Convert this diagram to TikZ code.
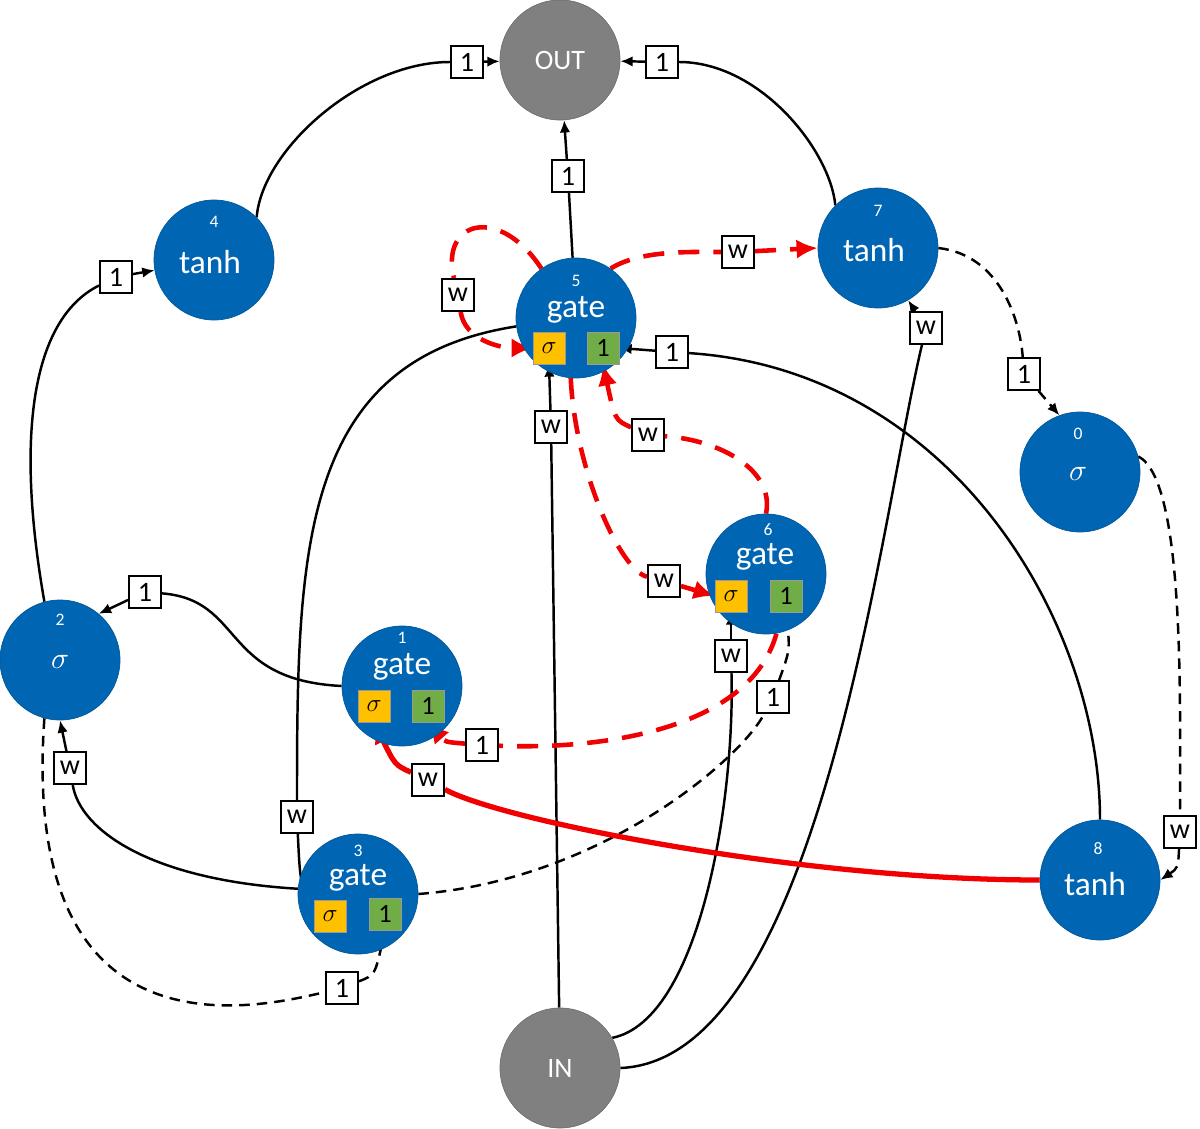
\documentclass[tikz,border=0pt]{standalone}
\usepackage{fontspec}
\setmainfont{Carlito}
\usetikzlibrary{arrows.meta}
\definecolor{nb}{RGB}{0,102,179}
\definecolor{gr}{RGB}{128,128,128}
\definecolor{og}{RGB}{255,192,0}
\definecolor{gn}{RGB}{112,173,71}
\definecolor{rd}{RGB}{240,0,0}
\pgfdeclarelayer{bg}
\pgfsetlayers{bg,main}
\begin{document}
\begin{tikzpicture}[x=0.02cm,y=-0.02cm,
 bn/.style={circle,fill=nb,draw=nb!85!black,minimum size=2.4cm,inner sep=0pt},
 gn/.style={circle,fill=gr,draw=gr!85!black,minimum size=2.4cm,inner sep=0pt,text=white,font=\fontsize{16}{16}\selectfont},
 num/.style={text=white,font=\fontsize{10}{10}\selectfont,inner sep=0pt},
 big/.style={text=white,font=\fontsize{19}{19}\selectfont,inner sep=0pt},
 sb/.style={draw=black!40,minimum size=0.64cm,inner sep=0pt,font=\fontsize{15}{15}\selectfont},
 lab/.style={draw,fill=white,line width=1.1pt,minimum size=0.64cm,inner sep=0pt,font=\fontsize{16}{16}\selectfont},
 bl/.style={line width=1.4pt},
 ba/.style={bl,-{Latex[length=7pt,width=6pt]}},
 dsh/.style={dash pattern=on 6pt off 4pt},
 rl/.style={rd,line width=2.6pt,dash pattern=on 12pt off 8pt},
 ra/.style={rl,-{Latex[length=12pt,width=11pt]}},
 rs/.style={rd,line width=3pt},
 rsa/.style={rs,-{Latex[length=12pt,width=11pt]}}]
\useasboundingbox (0,0) rectangle (1200,1129);
% nodes
\node[gn] (OUT) at (560,60) {OUT};
\node[gn] (IN) at (560,1068) {IN};
\node[bn] (n4) at (214,260) {}; \node[num] at (214,222) {4}; \node[big] at (210,262) {tanh};
\node[bn] (n7) at (878,248) {}; \node[num] at (878,211) {7}; \node[big] at (874,250) {tanh};
\node[bn] (n8) at (1100,880) {}; \node[num] at (1098,849) {8}; \node[big] at (1095,884) {tanh};
\node[bn] (n0) at (1080,472) {}; \node[num] at (1078,434) {0}; \node[big] at (1078,474) {$\sigma$};
\node[bn] (n2) at (60,660) {}; \node[num] at (60,620) {2}; \node[big] at (60,662) {$\sigma$};
\node[bn] (n5) at (576,318) {}; \node[num] at (576,281) {5}; \node[big] at (576,310) {gate};
\node[sb,fill=og] (s5a) at (549,348) {$\sigma$}; \node[sb,fill=gn] (s5b) at (603,348) {1};
\node[bn] (n6) at (766,574) {}; \node[num] at (768,530) {6}; \node[big] at (765,557) {gate};
\node[sb,fill=og] (s6a) at (731,596) {$\sigma$}; \node[sb,fill=gn] (s6b) at (786,596) {1};
\node[bn] (n1) at (402,686) {}; \node[num] at (402,638) {1}; \node[big] at (402,667) {gate};
\node[sb,fill=og] (s1a) at (374,706) {$\sigma$}; \node[sb,fill=gn] (s1b) at (428,706) {1};
\node[bn] (n3) at (358,894) {}; \node[num] at (358,851) {3}; \node[big] at (358,878) {gate};
\node[sb,fill=og] (s3a) at (330,916) {$\sigma$}; \node[sb,fill=gn] (s3b) at (385,914) {1};
% labels
\node[lab] (la) at (467,62) {1};
\node[lab] (lb) at (662,62) {1};
\node[lab] (lc) at (568,176) {1};
\node[lab] (ld) at (116,277) {1};
\node[lab] (lw) at (458,295) {w};
\node[lab] (le) at (738,252) {w};
\node[lab] (lf) at (1024,374) {1};
\node[lab] (lg) at (1180,832) {w};
\node[lab] (lh) at (672,352) {1};
\node[lab] (li) at (551,427) {w};
\node[lab] (lj) at (926,328) {w};
\node[lab] (lk) at (731,656) {w};
\node[lab] (ll) at (297,817) {w};
\node[lab] (lm) at (664,581) {w};
\node[lab] (ln) at (648,435) {w};
\node[lab] (lo) at (482,745) {1};
\node[lab] (lp) at (428,780) {w};
\node[lab] (lq) at (773,697) {1};
\node[lab] (lr) at (70,768) {w};
\node[lab] (ls) at (342,988) {1};
\node[lab] (lt) at (145,592) {1};
\begin{pgfonlayer}{bg}
\draw[bl] (n4.north east) .. controls (262,150) and (360,62) .. (la);
\draw[ba] (la) -- (OUT);
\draw[bl] (n7.north west) .. controls (830,150) and (760,62) .. (lb);
\draw[ba] (lb) -- (OUT);
\draw[bl] (n5) -- (lc);
\draw[ba] (lc) -- (OUT);
\draw[bl] (n2.105) .. controls (16,440) and (30,320) .. (ld);
\draw[ba] (ld) -- (n4);
\draw[bl,dsh] (n7.east) .. controls (1000,255) and (1020,320) .. (lf);
\draw[ba,dsh] (lf) -- (n0.110);
\draw[bl,dsh] (n0.15) .. controls (1185,480) and (1180,700) .. (lg);
\draw[ba,dsh] (lg) .. controls (1178,868) .. (n8.east);
\draw[bl] (n8.north) .. controls (1100,620) and (950,370) .. (lh);
\draw[ba] (lh) -- (s5b.east);
\draw[bl] (IN) -- (li);
\draw[ba] (li) -- (s5a.south);
\draw[bl] (IN.east) .. controls (820,1060) and (880,520) .. (lj);
\draw[ba] (lj) -- (n7.-60);
\draw[bl] (IN.30) .. controls (700,1020) and (735,800) .. (lk);
\draw[ba] (lk) -- (s6a.south);
\draw[bl] (n5.188) .. controls (300,360) and (297,550) .. (ll);
\draw[ba] (ll) .. controls (300,880) .. (s3a.west);
\draw[bl,dsh] (n3.east) .. controls (600,880) and (740,760) .. (lq);
\draw[ba,dsh] (lq) .. controls (790,650) .. (s6b.south);
\draw[bl] (n3.175) .. controls (150,880) and (80,830) .. (lr);
\draw[ba] (lr) -- (n2.south);
\draw[bl,dsh] (n2.-105) .. controls (20,1060) and (250,1010) .. (ls);
\draw[ba,dsh] (ls) .. controls (375,975) .. (s3b.south);
\draw[bl] (n1.west) .. controls (220,680) and (245,600) .. (lt);
\draw[ba] (lt) -- (n2.50);
\draw[rl] (n5.125) .. controls (500,205) and (440,220) .. (lw);
\draw[ra] (lw) .. controls (465,340) and (500,348) .. (s5a.west);
\draw[rl] (n5.55) .. controls (640,250) and (690,252) .. (le);
\draw[ra] (le) -- (n7.west);
\draw[rl] (n5.-95) .. controls (575,470) and (620,570) .. (lm);
\draw[ra] (lm) -- (s6a.west);
\draw[rl] (n6.north) .. controls (775,470) and (720,440) .. (ln);
\draw[ra] (ln) .. controls (615,420) .. (s5b.south);
\draw[rl] (n6.-80) .. controls (750,730) and (600,750) .. (lo);
\draw[ra] (lo) .. controls (445,742) .. (s1b.south);
\draw[rs] (n8.west) .. controls (800,880) and (500,820) .. (lp);
\draw[rsa] (lp) .. controls (395,765) .. (s1a.south);
\end{pgfonlayer}
\end{tikzpicture}
\end{document}
